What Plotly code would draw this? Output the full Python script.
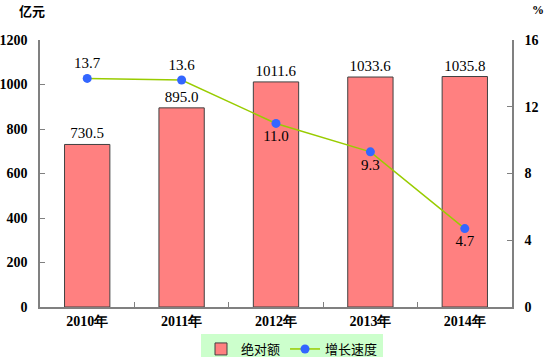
import plotly.graph_objects as go

years = ["2010年", "2011年", "2012年", "2013年", "2014年"]
amount = [730.5, 895.0, 1011.6, 1033.6, 1035.8]
growth = [13.7, 13.6, 11.0, 9.3, 4.7]
amount_text = ["730.5", "895.0", "1011.6", "1033.6", "1035.8"]
growth_text = ["13.7", "13.6", "11.0", "9.3", "4.7"]
growth_pos = ["top center", "top center", "bottom center", "bottom center", "bottom center"]

serif = "Liberation Serif"
W, H = 554, 357
L, R, T, B = 40, 42, 40, 50
pw, ph = W - L - R, H - T - B

fig = go.Figure()
fig.add_trace(go.Bar(
    x=years, y=amount, name="绝对额", width=0.48,
    marker=dict(color="#ff8080", line=dict(color="#404040", width=1)),
    text=amount_text, textposition="outside", cliponaxis=False,
    textfont=dict(family=serif, size=15, color="black"),
))
fig.add_trace(go.Scatter(
    x=years, y=growth, name="增长速度", yaxis="y2", mode="lines+markers+text",
    line=dict(color="#99cc00", width=1.5),
    marker=dict(color="#3366ff", size=9),
    text=growth_text, textposition=growth_pos, cliponaxis=False,
    textfont=dict(family=serif, size=15, color="black"),
))
fig.update_layout(
    width=W, height=H,
    margin=dict(l=L, r=R, t=T, b=B, autoexpand=False),
    paper_bgcolor="white", plot_bgcolor="white",
    font=dict(family=serif, color="black"),
    xaxis=dict(
        automargin=False,
        showline=True, linecolor="#808080", linewidth=1.5,
        ticks="inside", ticklen=5, tickcolor="#808080", tickson="boundaries",
        tickvals=years, ticktext=["<b>" + y + "</b>" for y in years],
        tickfont=dict(family=serif, size=14),
    ),
    yaxis=dict(
        automargin=False,
        range=[0, 1200], dtick=200, showgrid=False, zeroline=False,
        showline=True, linecolor="#808080", linewidth=1.5,
        ticks="inside", ticklen=5, tickcolor="#808080",
        tickprefix="<b>", ticksuffix="</b>",
        tickfont=dict(family=serif, size=14),
        ticklabelstandoff=8,
    ),
    yaxis2=dict(
        automargin=False,
        range=[0, 16], dtick=4, overlaying="y", side="right", showgrid=False,
        zeroline=False, showline=True, linecolor="#808080", linewidth=1.5,
        ticks="inside", ticklen=5, tickcolor="#808080",
        tickprefix="<b>", ticksuffix="</b>",
        tickfont=dict(family=serif, size=14),
        ticklabelstandoff=8,
    ),
    legend=dict(
        orientation="h", x=(292 - L) / pw, xanchor="center", y=-(334 - (T + ph)) / ph, yanchor="top",
        bgcolor="#ccffcc", font=dict(family="Noto Sans CJK SC", size=13),
        tracegroupgap=0, itemwidth=30,
    ),
    showlegend=True,
    annotations=[
        dict(text="亿元", xref="paper", yref="paper", x=(32 - L) / pw, y=1 + (T - 11) / ph,
             xanchor="center", yanchor="middle", showarrow=False,
             font=dict(family="Noto Sans CJK SC", size=13, weight="bold")),
        dict(text="<b>%</b>", xref="paper", yref="paper", x=(538 - L) / pw, y=1 + (T - 10) / ph,
             xanchor="center", yanchor="middle", showarrow=False,
             font=dict(family=serif, size=12)),
    ],
)
fig.write_html("out.html", post_script="document.body.style.margin='0';",
               config={"displayModeBar": False})
